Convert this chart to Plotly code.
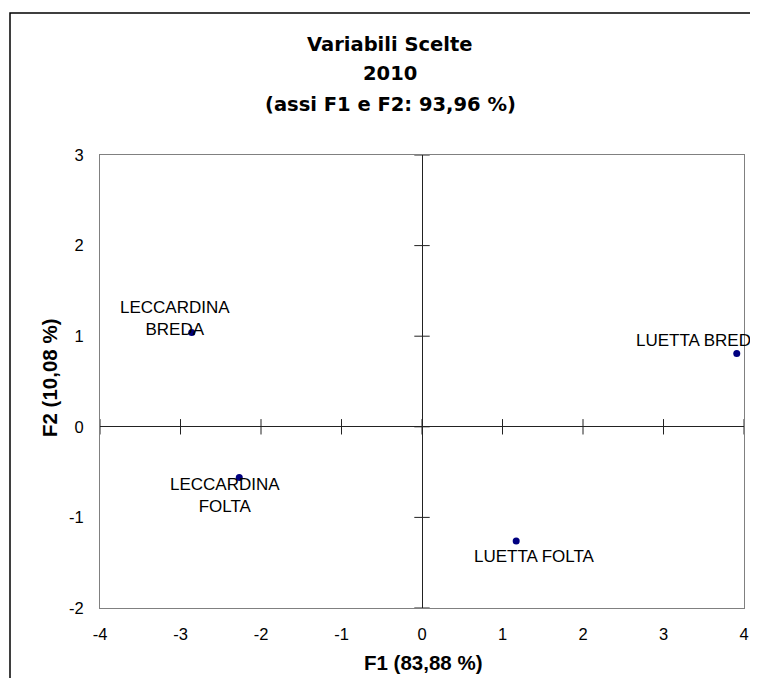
import plotly.graph_objects as go

# ---- data ----
names = ["LECCARDINA<br>BREDA", "LUETTA BREDA", "LECCARDINA<br>FOLTA", "LUETTA FOLTA"]
f1 = [-2.86, 3.91, -2.27, 1.17]
f2 = [1.04, 0.81, -0.56, -1.26]
x_ticks = [-4, -3, -2, -1, 0, 1, 2, 3, 4]
x_ticktext = ["-4", "-3", "-2", "-1", "0", "1", "2", "3", "4"]
y_ticks = [-2, -1, 0, 1, 2, 3]
y_ticktext = ["-2", "-1", "0", "1", "2", "3"]
title_lines = ["Variabili Scelte", "2010", "(assi F1 e F2: 93,96 %)"]
x_title = "F1 (83,88 %)"
y_title = "F2 (10,08 %)"

# label offsets (px) relative to each point
label_dx = [-17, -37, -14, 18]
label_dy = [14, 13, -18, -16]

# page body margin offsets the figure by 8px
OFF = 8
W, H = 758 - OFF, 678 - OFF
L, R, T, B = 100 - OFF, 14, 155 - OFF, 70
PW, PH = W - L - R, H - T - B
FONT = "Liberation Sans, Arial, sans-serif"


def px(xr):  # reference pixel x -> paper
    return (xr - OFF - L) / PW


def py(yr):  # reference pixel y -> paper
    return (H - B - (yr - OFF)) / PH


fig = go.Figure()

# cross tick marks on the zero axes
fig.add_trace(go.Scatter(
    x=x_ticks, y=[0] * len(x_ticks), mode="markers",
    marker=dict(symbol="line-ns-open", size=11, color="#222", line=dict(color="#222", width=1)),
    hoverinfo="skip", showlegend=False, cliponaxis=False))
fig.add_trace(go.Scatter(
    x=[0] * len(y_ticks), y=y_ticks, mode="markers",
    marker=dict(symbol="line-ew-open", size=11, color="#222", line=dict(color="#222", width=1)),
    hoverinfo="skip", showlegend=False, cliponaxis=False))

# points
fig.add_trace(go.Scatter(
    x=f1, y=f2, mode="markers",
    marker=dict(color="#000080", size=7),
    showlegend=False, cliponaxis=False))

for n, xv, yv, dx, dy in zip(names, f1, f2, label_dx, label_dy):
    fig.add_annotation(x=xv, y=yv, text=n, showarrow=False,
                       xshift=dx, yshift=dy, xanchor="center", yanchor="middle",
                       font=dict(family=FONT, size=17, color="black"))

# title lines
title_y = [44, 74, 104]
for t, yy in zip(title_lines, title_y):
    fig.add_annotation(xref="paper", yref="paper", x=px(390), y=py(yy),
                       text="<b>%s</b>" % t, showarrow=False,
                       xanchor="center", yanchor="middle",
                       font=dict(family="DejaVu Sans, sans-serif", size=19.5, color="black"))

# axis titles
fig.add_annotation(xref="paper", yref="paper", x=px(423), y=py(662),
                   text="<b>%s</b>" % x_title, showarrow=False,
                   xanchor="center", yanchor="middle",
                   font=dict(family=FONT, size=20.5, color="black"))
fig.add_annotation(xref="paper", yref="paper", x=px(49), y=py(378),
                   text="<b>%s</b>" % y_title, showarrow=False, textangle=-90,
                   xanchor="center", yanchor="middle",
                   font=dict(family=FONT, size=20.5, color="black"))

# outer chart frame
fig.add_shape(type="rect", xref="paper", yref="paper",
              x0=px(10), x1=1.3, y0=-0.5, y1=py(13),
              line=dict(color="black", width=1.5), fillcolor="rgba(0,0,0,0)", layer="below")

fig.update_xaxes(range=[-4, 4], tickvals=x_ticks, ticktext=x_ticktext, showgrid=False,
                 zeroline=True, zerolinecolor="#222", zerolinewidth=1,
                 showline=True, mirror=True, linecolor="#808080", linewidth=1,
                 ticks="outside", ticklen=11, tickcolor="rgba(0,0,0,0)",
                 tickfont=dict(family=FONT, size=16.5, color="black"))
fig.update_yaxes(range=[-2, 3], tickvals=y_ticks, ticktext=y_ticktext, showgrid=False,
                 zeroline=True, zerolinecolor="#222", zerolinewidth=1,
                 showline=True, mirror=True, linecolor="#808080", linewidth=1,
                 ticks="outside", ticklen=12, tickcolor="rgba(0,0,0,0)",
                 tickfont=dict(family=FONT, size=16.5, color="black"))

fig.update_layout(width=W, height=H, margin=dict(l=L, r=R, t=T, b=B, autoexpand=False),
                  plot_bgcolor="white", paper_bgcolor="white", showlegend=False)

fig.write_html("out.html")
